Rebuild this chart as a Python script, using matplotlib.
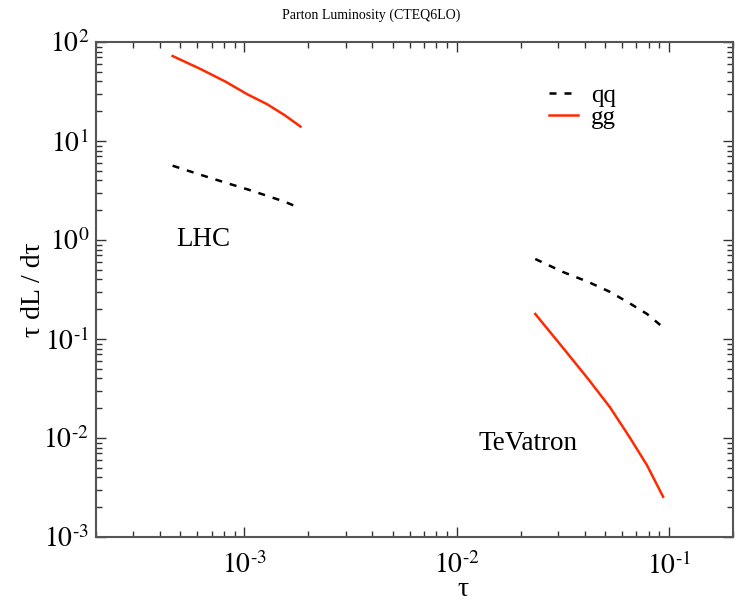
import matplotlib
matplotlib.use("Agg")
import matplotlib.pyplot as plt
import numpy as np
from matplotlib.ticker import LogLocator, NullFormatter, FuncFormatter

plt.rcParams['font.family'] = ['Liberation Serif', 'DejaVu Serif']
plt.rcParams['mathtext.fontset'] = 'stix'

# LHC (14 TeV), M = 300..600 GeV
lhc_tau = [4.59e-4, 6.25e-4, 8.16e-4, 1.033e-3, 1.276e-3, 1.543e-3, 1.837e-3]
lhc_gg = [72.2, 53.0, 39.7, 29.6, 23.6, 18.3, 14.0]
lhc_qq = [5.63, 4.54, 3.79, 3.25, 2.80, 2.44, 2.09]

# TeVatron (1.96 TeV), M = 300..600 GeV
tev_tau = [0.02343, 0.03189, 0.04165, 0.05271, 0.06508, 0.07874, 0.09371]
tev_qq = [0.643, 0.472, 0.377, 0.299, 0.230, 0.179, 0.131]
tev_gg = [0.179, 0.0798, 0.0393, 0.0204, 0.01023, 0.0053, 0.00255]

fig = plt.figure(figsize=(7.36, 6.03), dpi=100)
ax = fig.add_axes([96/736, 1-537/603, (733-96)/736, (537-42)/603])

red = '#ff2a00'
dash = (2.8, 3.2)
l1, = ax.plot(lhc_tau, lhc_qq, color='black', lw=1.8, dashes=dash, label='qq')
l2, = ax.plot(lhc_tau, lhc_gg, color=red, lw=1.8, label='gg')
ax.plot(tev_tau, tev_qq, color='black', lw=1.8, dashes=dash)
ax.plot(tev_tau, tev_gg, color=red, lw=1.8)

ax.set_xscale('log')
ax.set_yscale('log')
ax.set_xlim(2e-4, 0.2)
ax.set_ylim(1e-3, 1e2)


def fmt(v, _):
    e = int(round(np.log10(v)))
    return r'$10^{\text{%d}}$' % e


ax.xaxis.set_major_locator(LogLocator(base=10, numticks=10))
ax.xaxis.set_minor_locator(LogLocator(base=10, subs=range(2, 10), numticks=20))
ax.yaxis.set_major_locator(LogLocator(base=10, numticks=10))
ax.yaxis.set_minor_locator(LogLocator(base=10, subs=range(2, 10), numticks=20))
ax.xaxis.set_major_formatter(FuncFormatter(fmt))
ax.yaxis.set_major_formatter(FuncFormatter(fmt))
ax.xaxis.set_minor_formatter(NullFormatter())
ax.yaxis.set_minor_formatter(NullFormatter())

ax.tick_params(which='both', direction='in', top=True, right=True, color='#333333')
ax.tick_params(which='major', length=7, width=1.0, labelsize=20)
ax.tick_params(axis='x', which='major', pad=11)
ax.tick_params(axis='y', which='major', pad=5)
ax.tick_params(which='minor', length=4, width=1.0)
for s in ax.spines.values():
    s.set_linewidth(1.5)
    s.set_color('#555555')

ax.set_xlabel('τ', fontsize=20)
ax.xaxis.set_label_coords((463-96)/637, (537-602)/495)
ax.xaxis.label.set_va('bottom')
ax.set_ylabel('τ dL / dτ', fontsize=20)
ax.yaxis.set_label_coords((34-96)/637, 0.5)
ax.yaxis.label.set_va('center')
fig.text(371/736, 1 - 15/603, 'Parton Luminosity (CTEQ6LO)', ha='center', va='center', fontsize=10)

ax.text(4.79e-4, 1.0, 'LHC', fontsize=19.5, ha='left', va='center')
ax.text(0.0126, 0.0087, 'TeVatron', fontsize=19.5, ha='left', va='center')

leg = ax.legend(handles=[l1, l2], loc='upper left', bbox_to_anchor=(0.691, 0.94),
                frameon=False, fontsize=18, handlelength=1.16, handletextpad=0.52,
                labelspacing=0.0, borderpad=0)

fig.savefig('out.png', dpi=100)
